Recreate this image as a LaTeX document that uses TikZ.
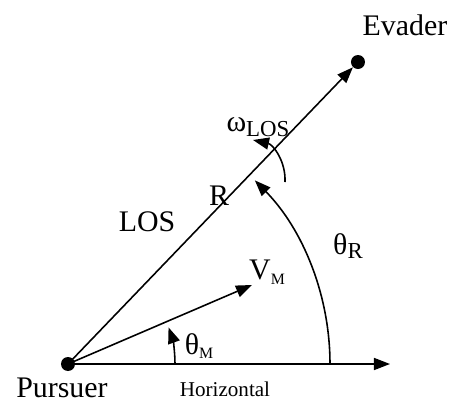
\documentclass[tikz,border=0pt]{standalone}
\usepackage{fontspec}
\setmainfont{Liberation Serif}
\usetikzlibrary{positioning,arrows.meta,calc}
\newcommand\lowsub[2]{\raisebox{-0.35ex}{\fontsize{#1}{#1}\selectfont #2}}

\begin{document}
\begin{tikzpicture}[
  every node/.style={font=\fontsize{17}{19}\selectfont},
  dot/.style={circle, fill=black, inner sep=0pt, minimum size=0.28cm},
  arr/.style={-{Triangle[length=0.32cm,width=0.24cm]}, line width=0.9pt},
  smalltxt/.style={font=\fontsize{12}{14}\selectfont}
]
\useasboundingbox (-1.36,-0.76) rectangle (7.66,7.28);

\node[dot] (pursuer) at (0,0) {};
\node[dot] (evader)  at (5.8,6.04) {};
\coordinate (horiz) at (6.44,0);
\coordinate (vm)    at (3.68,1.58);
\coordinate (rstart) at (5.24,0);
\coordinate (mstart) at (2.14,0);
\coordinate (wstart) at (4.34,3.64);
\coordinate (wend)   at (3.70,4.48);

%% Main vectors
\draw[arr] (pursuer.center) -- (horiz);
\draw[arr] (pursuer.center) -- (evader);
\draw[arr] (pursuer.center) -- (vm);

%% Angle arcs
\draw[arr] (rstart) arc[start angle=0, end angle=44.5, radius=5.24];
\draw[arr] (mstart) arc[start angle=0, end angle=20, radius=2.14];
\draw[arr] (wstart) to[bend right=40] (wend);

%% Labels
\node (evaderlbl)  at (6.74,6.78) {Evader};
\node (pursuerlbl) at (-0.12,-0.48) {Pursuer};
\node (loslbl)     at (1.58,2.84) {LOS};
\node (rlbl)       at (3.02,3.36) {R};
\node[smalltxt] (horizlbl) at (3.14,-0.5) {Horizontal};
\node (thetam) at (2.62,0.36) {θ\lowsub{9}{M}};
\node (vmlbl)  at (3.98,1.84) {V\lowsub{9}{M}};
\node (thetar) at (5.6,2.36) {θ\lowsub{13}{R}};
\node (omega)  at (3.8,4.74) {ω\lowsub{13}{LOS}};

\end{tikzpicture}
\end{document}
